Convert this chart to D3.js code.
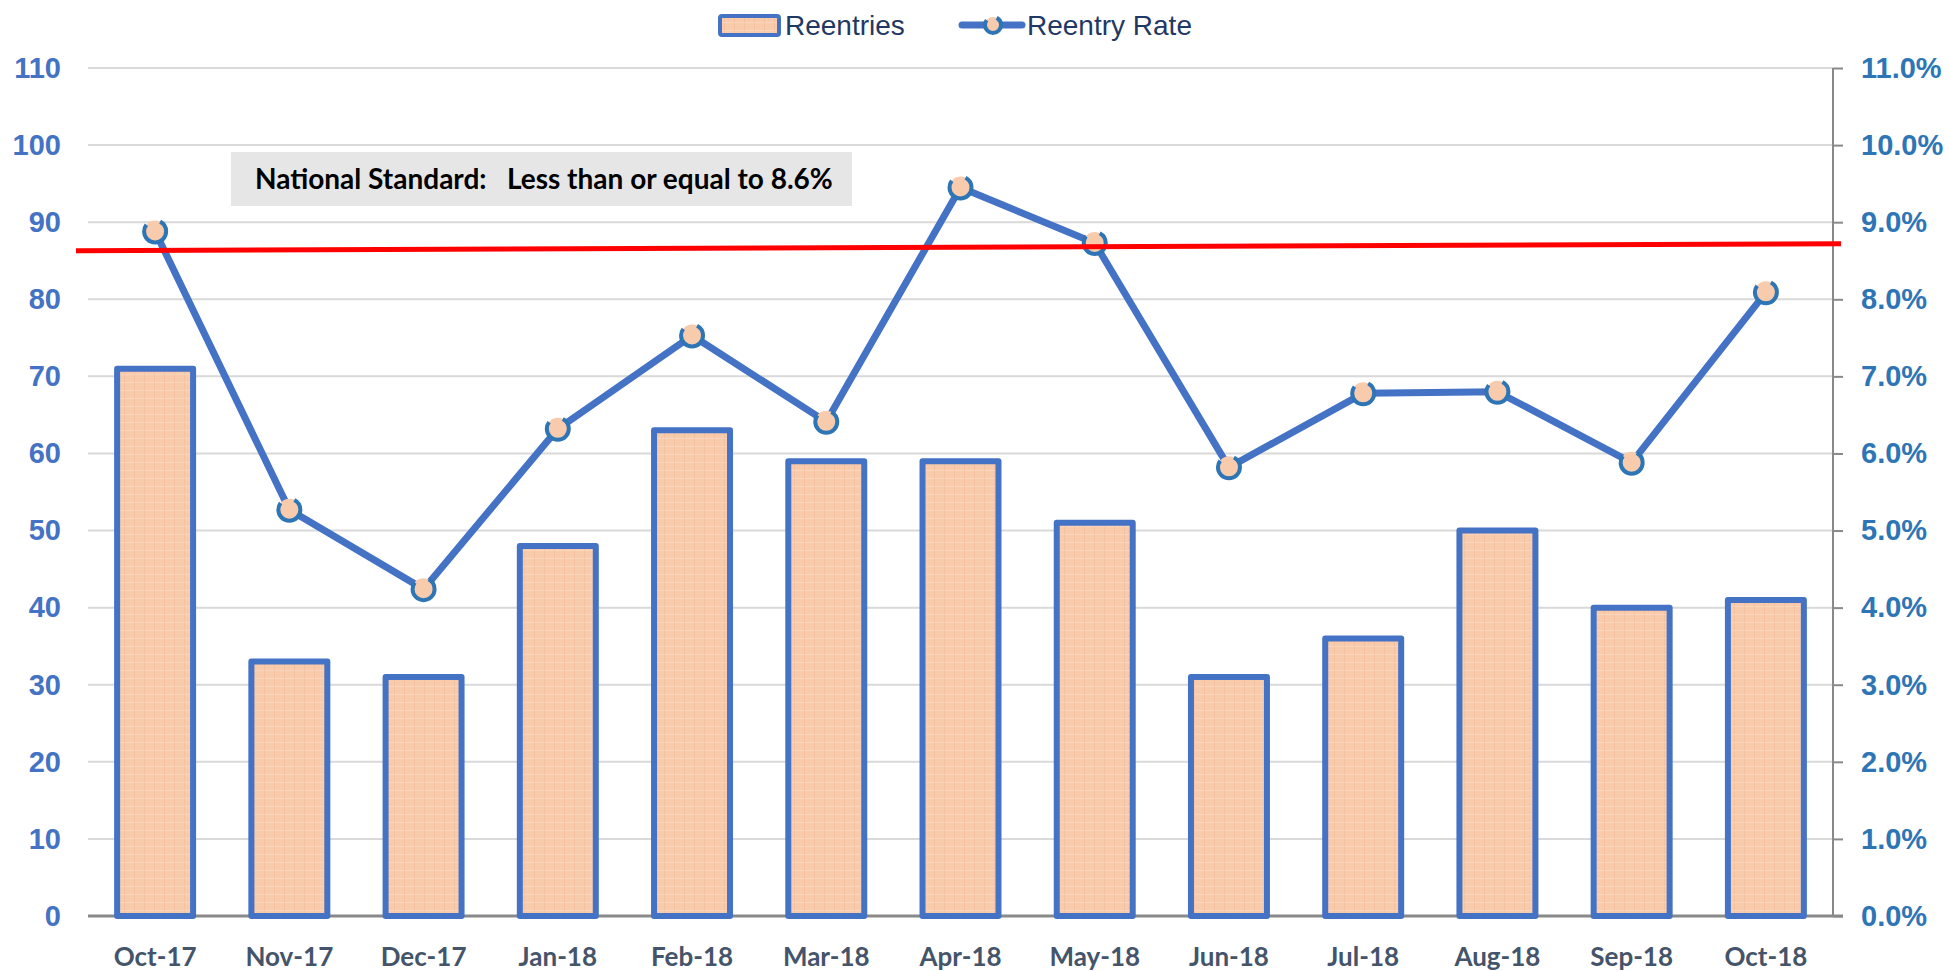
<!DOCTYPE html>
<html>
<head>
<meta charset="utf-8">
<script src="https://cdn.jsdelivr.net/npm/d3@7"></script>
<style>
  body { margin: 0; background: #fff; }
  svg { display: block; }
</style>
</head>
<body>
<div class="chartContainer"></div>
<script>
// data
const months = ["Oct-17", "Nov-17", "Dec-17", "Jan-18", "Feb-18", "Mar-18", "Apr-18",
  "May-18", "Jun-18", "Jul-18", "Aug-18", "Sep-18", "Oct-18"];
const reentries = [71, 33, 31, 48, 63, 59, 59, 51, 31, 36, 50, 40, 41];
const reentryRate = [8.88, 5.27, 4.24, 6.32, 7.53, 6.41, 9.45, 8.73, 5.82, 6.78, 6.80, 5.88, 8.09];
const leftTicks = [0, 10, 20, 30, 40, 50, 60, 70, 80, 90, 100, 110];
const rightTicks = [0, 1, 2, 3, 4, 5, 6, 7, 8, 9, 10, 11];
const standardLabel = "National Standard:   Less than or equal to 8.6%";
const standardLine = [8.63, 8.72]; // the drawn red line is a little tilted
const legendNames = ["Reentries", "Reentry Rate"];

const svgWidth = 1950;
const svgHeight = 971;

const margin = { left: 88, right: 117, top: 68, bottom: 55 };
const plotRight = svgWidth - margin.right;
const plotBottom = svgHeight - margin.bottom;

const blue = "#4472C4";
const ringBlue = "#2E75B6";
const peach = "#F8CBAD";

const svg = d3
  .select(".chartContainer")
  .append("svg")
  .attr("width", svgWidth)
  .attr("height", svgHeight);

// bar fill texture
const defs = svg.append("defs");
const pat = defs
  .append("pattern")
  .attr("id", "peachPattern")
  .attr("patternUnits", "userSpaceOnUse")
  .attr("width", 10)
  .attr("height", 8);
pat.append("rect").attr("width", 10).attr("height", 8).attr("fill", peach);
pat.append("rect").attr("x", 4).attr("width", 1).attr("height", 8).attr("fill", "#F3B995").attr("opacity", 0.6);
pat.append("rect").attr("x", 8).attr("y", 3).attr("width", 1).attr("height", 1).attr("fill", "#F1B48C").attr("opacity", 0.5);
pat.append("rect").attr("y", 6).attr("width", 10).attr("height", 1).attr("fill", "#FBDCC7").attr("opacity", 0.6);

// scales
const xScale = d3
  .scaleBand()
  .domain(months)
  .range([margin.left, plotRight])
  .paddingInner(0.434)
  .paddingOuter(0.217);

const yLeft = d3.scaleLinear().domain([0, 110]).range([plotBottom, margin.top]);
const yRight = d3.scaleLinear().domain([0, 11]).range([plotBottom, margin.top]);

const cx = m => xScale(m) + xScale.bandwidth() / 2;

// gridlines
svg
  .append("g")
  .selectAll("line")
  .data(leftTicks.filter(d => d > 0))
  .enter()
  .append("line")
  .attr("x1", margin.left)
  .attr("x2", plotRight)
  .attr("y1", d => yLeft(d))
  .attr("y2", d => yLeft(d))
  .attr("stroke", "#D9D9D9")
  .attr("stroke-width", 2);

// left axis (labels only)
const yAxisLeft = d3.axisLeft(yLeft).tickValues(leftTicks).tickSize(0).tickPadding(27);
const gLeft = svg.append("g").attr("transform", "translate(" + [margin.left, 0] + ")").call(yAxisLeft);
gLeft.select(".domain").remove();
gLeft
  .selectAll("text")
  .attr("fill", blue)
  .style("font-family", "'Liberation Sans', Arial, sans-serif")
  .style("font-weight", "bold")
  .style("font-size", "29px");

// right axis
const yAxisRight = d3
  .axisRight(yRight)
  .tickValues(rightTicks)
  .tickSize(10)
  .tickPadding(18)
  .tickFormat(d => d.toFixed(1) + "%");
const gRight = svg.append("g").attr("transform", "translate(" + [plotRight, 0] + ")").call(yAxisRight);
gRight.select(".domain").attr("stroke", "#898989").attr("stroke-width", 2).attr("d", "M0," + margin.top + "V" + plotBottom);
gRight.selectAll(".tick line").attr("stroke", "#898989").attr("stroke-width", 2);
gRight
  .selectAll("text")
  .attr("fill", ringBlue)
  .style("font-family", "'Liberation Sans', Arial, sans-serif")
  .style("font-weight", "bold")
  .style("font-size", "29px");

// bottom axis
const xAxis = d3.axisBottom(xScale).tickSize(0);
const gX = svg.append("g").attr("transform", "translate(" + [0, plotBottom] + ")").call(xAxis);
gX.select(".domain").attr("stroke", "#898989").attr("stroke-width", 3).attr("d", "M" + margin.left + ",0H" + (plotRight + 10));
gX
  .selectAll("text")
  .attr("y", 50)
  .attr("dy", 0)
  .attr("fill", "#44546A")
  .style("font-family", "Lato, sans-serif")
  .style("font-weight", "bold")
  .style("font-size", "26px");

// National standard box
const box = svg.append("g");
box
  .append("rect")
  .attr("x", 231)
  .attr("y", 152)
  .attr("width", 621)
  .attr("height", 54)
  .attr("fill", "#E7E6E6");
box
  .append("text")
  .attr("x", 255)
  .attr("y", 189)
  .attr("xml:space", "preserve")
  .style("white-space", "pre")
  .style("font-family", "Lato, sans-serif")
  .style("font-weight", "bold")
  .style("font-size", "28px")
  .attr("fill", "#000")
  .text(standardLabel);

// bars
svg
  .append("g")
  .selectAll("rect")
  .data(months)
  .enter()
  .append("rect")
  .attr("x", d => xScale(d))
  .attr("y", (d, i) => yLeft(reentries[i]))
  .attr("width", xScale.bandwidth())
  .attr("height", (d, i) => plotBottom - yLeft(reentries[i]))
  .attr("fill", "url(#peachPattern)")
  .attr("stroke", blue)
  .attr("stroke-width", 6)
  .attr("stroke-linejoin", "round");

// rate line
const line = d3
  .line()
  .x(d => cx(d))
  .y((d, i) => yRight(reentryRate[i]));

svg
  .append("path")
  .datum(months)
  .attr("d", line)
  .attr("fill", "none")
  .attr("stroke", blue)
  .attr("stroke-width", 7)
  .attr("stroke-linejoin", "round");

// ring markers with a gap at the upper left, like the original
const ring = (sel, r) => {
  const c = 2 * Math.PI * r;
  sel
    .attr("r", r)
    .attr("fill", peach)
    .attr("stroke", ringBlue)
    .attr("stroke-width", 4)
    .attr("stroke-dasharray", [c * 0.6, c * 0.22, c * 0.18].join(" "));
};

svg
  .append("g")
  .selectAll("circle")
  .data(months)
  .enter()
  .append("circle")
  .attr("cx", d => cx(d))
  .attr("cy", (d, i) => yRight(reentryRate[i]))
  .call(ring, 11);

// red standard line drawn on top
svg
  .append("line")
  .attr("x1", 76)
  .attr("x2", plotRight + 8)
  .attr("y1", yRight(standardLine[0]))
  .attr("y2", yRight(standardLine[1]))
  .attr("stroke", "#FF0000")
  .attr("stroke-width", 5);

// legend
const legend = svg.append("g").style("font-family", "'Liberation Sans', Arial, sans-serif").style("font-size", "28px");
legend
  .append("rect")
  .attr("x", 720)
  .attr("y", 16)
  .attr("width", 59)
  .attr("height", 19)
  .attr("rx", 2)
  .attr("fill", "url(#peachPattern)")
  .attr("stroke", blue)
  .attr("stroke-width", 4);
legend.append("text").attr("x", 785).attr("y", 35).attr("fill", "#1F3864").text(legendNames[0]);
legend
  .append("line")
  .attr("x1", 962)
  .attr("x2", 1022)
  .attr("y1", 25)
  .attr("y2", 25)
  .attr("stroke", blue)
  .attr("stroke-width", 7)
  .attr("stroke-linecap", "round");
legend.append("circle").attr("cx", 993).attr("cy", 25).call(ring, 8);
legend.append("text").attr("x", 1027).attr("y", 35).attr("fill", "#1F3864").text(legendNames[1]);
</script>
</body>
</html>
